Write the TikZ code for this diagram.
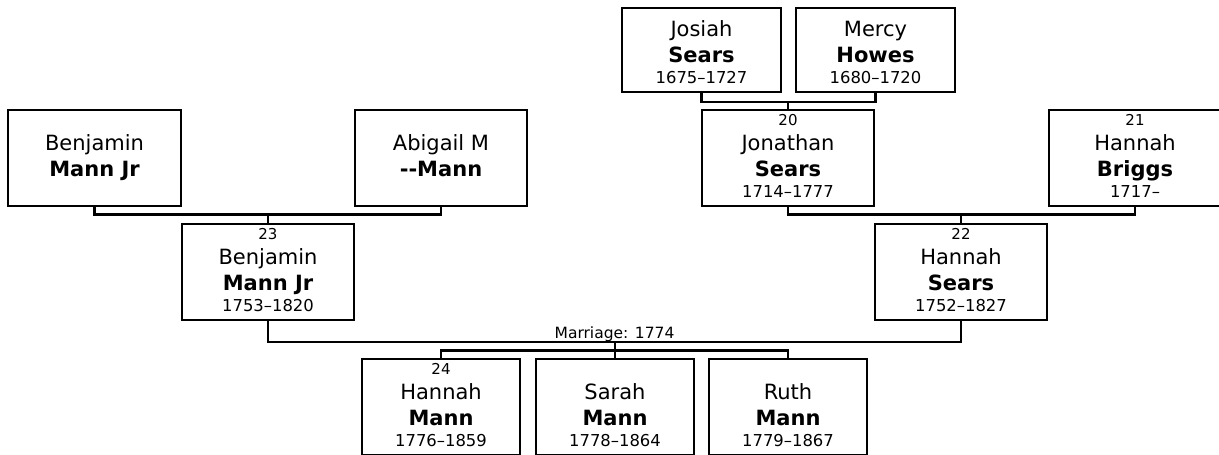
\documentclass[tikz,border=0pt]{standalone}
\usepackage{fontspec}
\newfontfamily\treefont{DejaVu Sans}

\tikzset{
	pbox/.style={draw, rectangle, line width=2.4pt, inner sep=0pt},
	link/.style={line width=2.4pt},
	numtxt/.style={anchor=base, inner sep=0pt, font=\treefont\fontsize{15}{18}\selectfont},
	firsttxt/.style={anchor=base, inner sep=0pt, font=\treefont\fontsize{21}{25}\selectfont},
	lasttxt/.style={anchor=base, inner sep=0pt, font=\treefont\bfseries\fontsize{21}{25}\selectfont},
	datetxt/.style={anchor=base, inner sep=0pt, font=\treefont\fontsize{16.4}{19}\selectfont},
	marr/.style={anchor=base, yshift=4pt, inner sep=0pt, font=\treefont\fontsize{15.5}{18}\selectfont}
}

\begin{document}
\begin{tikzpicture}[x=1pt, y=-1pt]
\clip (0,0) rectangle (1219,455);

\foreach \pid/\px/\py/\pw/\ph/\pnum/\pfirst/\plast/\pdates in {
b1/94.5/158/173/96/{}/Benjamin/Mann Jr/{}%
,ab/441/158/172/96/{}/Abigail M/-\kern0pt-Mann/{}%
,b23/268/272/172/96/23/Benjamin/Mann Jr/1753–1820%
,jo/701.5/50/159/84/{}/Josiah/Sears/1675–1727%
,me/875.5/50/159/84/{}/Mercy/Howes/1680–1720%
,jon/788/158/172/96/20/Jonathan/Sears/1714–1777%
,hb/1135/158/172/96/21/Hannah/Briggs/1717–%
,hs/961/272/172/96/22/Hannah/Sears/1752–1827%
,k1/441/407/158/96/24/Hannah/Mann/1776–1859%
,k2/615/407/158/96/{}/Sarah/Mann/1778–1864%
,k3/788/407/158/96/{}/Ruth/Mann/1779–1867%
}{
	\node[pbox, minimum width=\pw, minimum height=\ph] (\pid) at (\px,\py) {};
	\node[numtxt] (\pid-n) at ([yshift=82pt]\pid.south) {\pnum};
	\node[firsttxt] (\pid-f) at ([yshift=57pt]\pid.south) {\pfirst};
	\node[lasttxt] (\pid-l) at ([yshift=30.5pt]\pid.south) {\plast};
	\node[datetxt] (\pid-d) at ([yshift=10pt]\pid.south) {\pdates};
}

% parents to child
\foreach \pa/\pb/\ch/\dy in {
b1/ab/b23/7.3%
,jo/me/jon/8.5%
,jon/hb/hs/7.3%
}{
	\draw[link] (\pa.south) -- ++(0,\dy) coordinate (bar\ch) -| (\pb.south);
	\draw[link] (bar\ch -| \ch.north) -- (\ch.north);
}

% marriage and children
\draw[link] (b23.south) -- ++(0,21) coordinate (wed) -| node[marr, pos=0.25] (marrlbl) {Marriage: 1774} (hs.south);
\draw[link] (k1.north) -- ++(0,-7.3) -| (k3.north);
\draw[link] (wed -| k2.north) -- (k2.north);

\end{tikzpicture}
\end{document}
